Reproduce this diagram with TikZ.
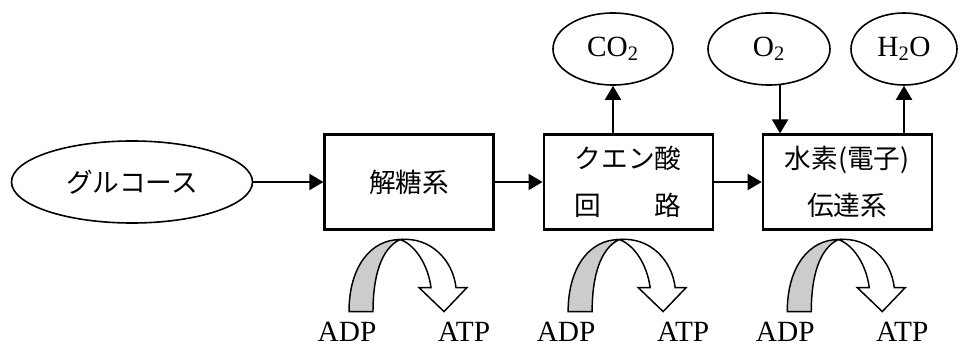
\documentclass[tikz,border=0pt]{standalone}
\usepackage{fontspec}
\setmainfont{Liberation Serif}
\newfontfamily\jp{Noto Sans CJK JP}
\usetikzlibrary{shapes.geometric,arrows.meta,positioning}

\begin{document}
\begin{tikzpicture}[x=0.75pt,y=-0.75pt,
    box/.style={draw,line width=1.6pt,minimum width=126.75pt,minimum height=71.25pt,
      inner sep=0pt,align=center,font=\jp\fontsize{20}{35}\selectfont},
    mol/.style={draw,ellipse,line width=1.2pt,minimum width=90pt,minimum height=54pt,
      inner sep=0pt,font=\fontsize{22}{26}\selectfont},
    flow/.style={line width=1.5pt,-{Triangle[length=10.5pt,width=12pt]}},
    cyc/.style={font=\fontsize{22}{26}\selectfont,inner sep=0pt},
    atpcycle/.pic={
      % ADP side (gray) and ATP side (white arrow)
      \filldraw[fill=gray!40,line width=1.1pt]
        (-60,81) .. controls (-60,36) and (-38,9) .. (-9,9)
        .. controls (-28,18) and (-36,46) .. (-36,81) -- cycle;
      \filldraw[fill=white,line width=1.1pt]
        (-9,9) .. controls (22,6) and (44,30) .. (47,57) -- (58,57) -- (35,81)
        -- (10,57) -- (22,57) .. controls (19,34) and (6,14) .. (-9,9) -- cycle;
      \node[cyc] (adp) at (-62,101) {ADP};
      \node[cyc] (atp) at (55,101) {ATP};
    }]

  \useasboundingbox (0,0) rectangle (961,349);

  \node[box] (glyc) at (409,182) {解糖系};
  \node[box,right=36pt of glyc] (tca) {クエン酸\\回　　路};
  \node[box,right=36pt of tca] (etc) {水素(電子)\\伝達系};

  \node[mol,minimum width=180.75pt,minimum height=61.5pt,
    font=\jp\fontsize{20}{24}\selectfont] (glc) at (132,182) {グルコース};
  \node[mol] (co2) at (613,49) {CO\textsubscript{2}};
  \node[mol,minimum width=91.5pt] (o2) at (769,49) {O\textsubscript{2}};
  \node[mol,minimum width=79.5pt] (h2o) at (904,49) {H\textsubscript{2}O};

  \draw[flow] (glc) -- (glyc);
  \draw[flow] (glyc) -- (tca);
  \draw[flow] (tca) -- (etc);
  \draw[flow] (tca.north -| co2.south) -- (co2.south);
  \draw[flow] (o2.-73) -- (o2.-73 |- etc.north);
  \draw[flow] (etc.north -| h2o.south) -- (h2o.south);

  \foreach \b in {glyc,tca,etc}
  {
    \pic (c\b) at (\b.south) {atpcycle};
  }
\end{tikzpicture}
\end{document}
